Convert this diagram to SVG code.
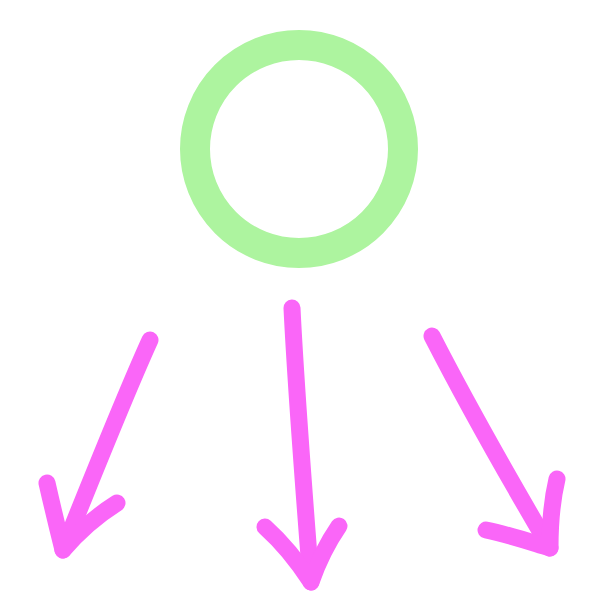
<svg xmlns="http://www.w3.org/2000/svg" width="600" height="600" viewBox="0 0 600 600">
<style>
.arrow{fill:none;stroke:#fa66f8;stroke-width:17;stroke-linecap:round;stroke-linejoin:round}
</style>
<rect width="600" height="600" fill="#ffffff"/>
<g id="circle">
<circle cx="299" cy="149" r="104" fill="none" stroke="#adf49f" stroke-width="30"/>
</g>
<g id="connectors">
<path class="arrow" d="M150,340 C125,395 95,470 63,550"/>
<path class="arrow" d="M47,483 C52,505 58,530 63,550 C80,530 98,515 117,503"/>
<path class="arrow" d="M292,308 C296,390 303,480 311,582"/>
<path class="arrow" d="M265,527 C285,545 300,565 311,582 C318,562 328,542 339,526"/>
<path class="arrow" d="M432,336 C470,410 510,480 550,548"/>
<path class="arrow" d="M557,479 C552,500 550,525 550,548 C530,542 510,535 486,530"/>
</g>
</svg>
